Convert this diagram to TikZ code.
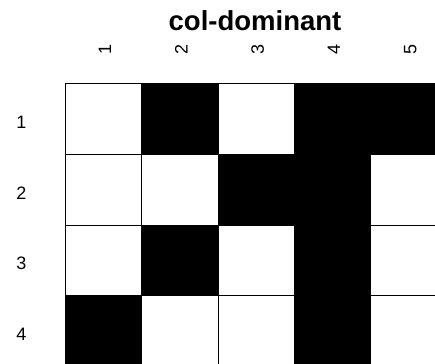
\documentclass[tikz,border=0pt]{standalone}
\usepackage{fontspec}
\setmainfont{Liberation Sans}
\usetikzlibrary{positioning}

\begin{document}
\begin{tikzpicture}[x=1pt, y=-1pt,
  cell/.style={draw, line width=0.7pt, minimum width=76.3pt, minimum height=70.5pt, inner sep=0pt, anchor=north west},
  on/.style={cell, fill=black},
  off/.style={cell, fill=white},
  lab/.style={font=\fontsize{18}{20}\selectfont, inner sep=0pt}]
\useasboundingbox (0,0) rectangle (435,363);
\clip (0,0) rectangle (435,363);

% title and axis labels
\node[font=\fontsize{27.5}{30}\selectfont\bfseries, anchor=base, inner sep=0pt] (title) at (255,31) {col-dominant};
\foreach \c in {1,...,5}
  \node[lab, rotate=90] (k\c) at ({105+76.3*(\c-1)},49) {\c};
\foreach \r in {1,...,4}
  \node[lab] (r\r) at (21.5,{122.5+70.5*(\r-1)}) {\r};

% the cells, row by row
\foreach \c/\s in {1/off,2/on,3/off,4/on,5/on}
  \node[\s] (m1\c) at ({65+76.3*(\c-1)},83.5) {};
\foreach \c/\s in {1/off,2/off,3/on,4/on,5/off}
  \node[\s] (m2\c) at ({65+76.3*(\c-1)},154) {};
\foreach \c/\s in {1/off,2/on,3/off,4/on,5/off}
  \node[\s] (m3\c) at ({65+76.3*(\c-1)},224.5) {};
\foreach \c/\s in {1/on,2/off,3/off,4/on,5/off}
  \node[\s] (m4\c) at ({65+76.3*(\c-1)},295) {};
\end{tikzpicture}
\end{document}
